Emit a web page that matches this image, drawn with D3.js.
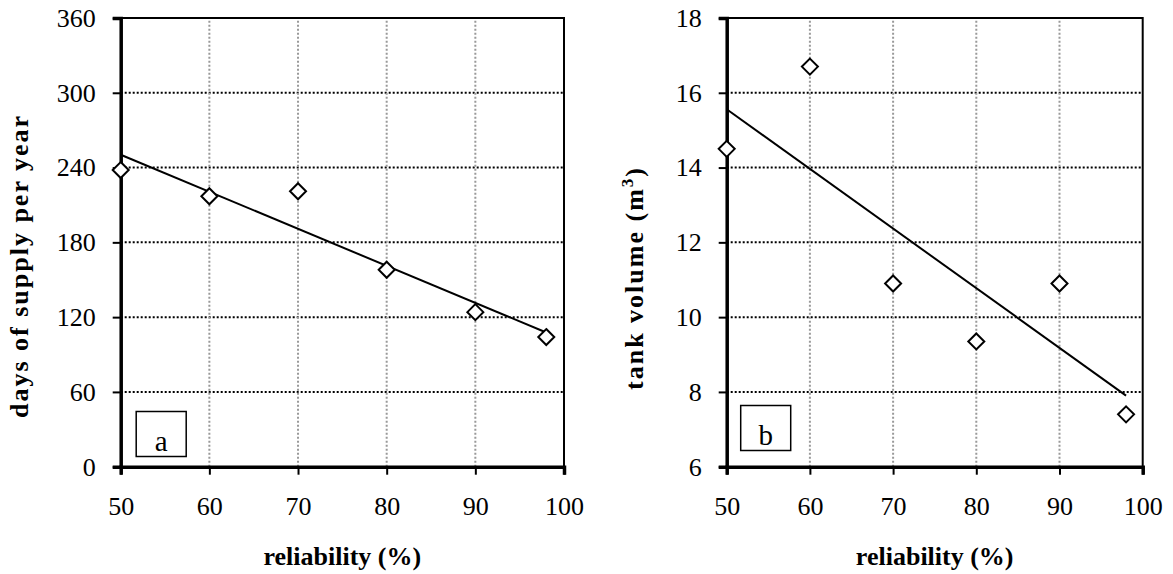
<!DOCTYPE html>
<html>
<head>
    <title>Reliability charts</title>
    <script src="https://cdn.jsdelivr.net/npm/d3@7"></script>
    <style>
        body {
            margin: 0;
            padding: 0;
            background-color: white;
        }

        svg text {
            font-family: "Liberation Serif", "Times New Roman", serif;
            fill: black;
        }

        .tick-label {
            font-size: 26px;
        }

        .axis-title {
            font-size: 26px;
            font-weight: bold;
        }

        .y-title {
            letter-spacing: 2px;
        }

        .panel-label {
            font-size: 29px;
        }
    </style>
</head>
<body>
    <div id="chart"></div>

    <script>
        // values
        const reliability = [50, 60, 70, 80, 90, 98];
        const daysOfSupply = [238, 217, 221, 158, 124, 104];
        const tankVolume = [14.5, 16.7, 10.9, 9.35, 10.9, 7.4];

        const xTicks = [50, 60, 70, 80, 90, 100];
        const yTicksA = [0, 60, 120, 180, 240, 300, 360];
        const yTicksB = [6, 8, 10, 12, 14, 16, 18];

        const svg = d3.select("#chart")
            .append("svg")
            .attr("width", 1173)
            .attr("height", 574);

        // least squares trend line, like the spreadsheet trendline
        function fitLine(xs, ys) {
            const mx = d3.mean(xs), my = d3.mean(ys);
            const sxy = d3.sum(xs, (x, i) => (x - mx) * (ys[i] - my));
            const sxx = d3.sum(xs, x => (x - mx) * (x - mx));
            const slope = sxy / sxx;
            return x => my + slope * (x - mx);
        }

        function drawPanel(cfg) {
            const x = d3.scaleLinear().domain([50, 100]).range([cfg.left, cfg.right]);
            const y = d3.scaleLinear().domain(cfg.yDomain).range([466.7, 18]);
            const g = svg.append("g");

            // horizontal grid, black dots
            g.selectAll(".hgrid")
                .data(cfg.yTicks.slice(1, -1))
                .enter()
                .append("line")
                .attr("x1", cfg.left)
                .attr("x2", cfg.right)
                .attr("y1", d => y(d))
                .attr("y2", d => y(d))
                .style("stroke", "black")
                .style("stroke-width", "2px")
                .style("stroke-dasharray", "2,2");

            // vertical grid, grey dots
            g.selectAll(".vgrid")
                .data(xTicks.slice(1, -1))
                .enter()
                .append("line")
                .attr("x1", d => x(d))
                .attr("x2", d => x(d))
                .attr("y1", y(cfg.yDomain[0]))
                .attr("y2", y(cfg.yDomain[1]))
                .style("stroke", "#999")
                .style("stroke-width", "2px")
                .style("stroke-dasharray", "2,2");

            // top and right border
            g.append("path")
                .attr("d", `M${cfg.left},${y(cfg.yDomain[1])}H${cfg.right}V${y(cfg.yDomain[0])}`)
                .style("fill", "none")
                .style("stroke", "black")
                .style("stroke-width", "2px");

            const xAxis = g.append("g")
                .attr("transform", `translate(0,${y(cfg.yDomain[0])})`)
                .call(d3.axisBottom(x).tickValues(xTicks).tickSize(8).tickPadding(22));

            const yAxis = g.append("g")
                .attr("transform", `translate(${cfg.left},0)`)
                .call(d3.axisLeft(y).tickValues(cfg.yTicks).tickSize(8).tickPadding(17));

            [xAxis, yAxis].forEach(a => {
                a.select(".domain").style("stroke", "black").style("stroke-width", "3.5px");
                a.selectAll(".tick line").style("stroke", "black").style("stroke-width", "2px");
                a.selectAll(".tick text")
                    .attr("class", "tick-label")
                    .attr("font-family", null)
                    .attr("font-size", null);
                a.attr("font-family", null).attr("font-size", null);
            });

            // trend line
            const f = fitLine(reliability, cfg.values);
            const x0 = d3.min(reliability), x1 = d3.max(reliability);
            g.append("line")
                .attr("x1", x(x0))
                .attr("y1", y(f(x0)))
                .attr("x2", x(x1))
                .attr("y2", y(f(x1)))
                .style("stroke", "black")
                .style("stroke-width", "2px");

            // diamond markers
            g.selectAll(".pt")
                .data(reliability)
                .enter()
                .append("path")
                .attr("d", "M0,-8L8,0L0,8L-8,0Z")
                .attr("transform", (d, i) => `translate(${x(d)},${y(cfg.values[i])})`)
                .style("fill", "white")
                .style("stroke", "black")
                .style("stroke-width", "2px");

            // panel letter box
            g.append("rect")
                .attr("x", cfg.left + cfg.box[0])
                .attr("y", cfg.box[1])
                .attr("width", 50)
                .attr("height", 45)
                .style("fill", "white")
                .style("stroke", "black")
                .style("stroke-width", "1.5px");

            g.append("text")
                .attr("class", "panel-label")
                .attr("x", cfg.left + cfg.box[0] + 25)
                .attr("y", cfg.box[1] + 39)
                .style("text-anchor", "middle")
                .text(cfg.letter);

            // axis titles
            g.append("text")
                .attr("class", "axis-title")
                .attr("x", (cfg.left + cfg.right) / 2)
                .attr("y", 565)
                .style("text-anchor", "middle")
                .text("reliability (%)");

            const yt = g.append("text")
                .attr("class", "axis-title y-title")
                .attr("transform", `translate(${cfg.left - cfg.titleOffset},${cfg.titleY}) rotate(-90)`)
                .style("text-anchor", "middle");
            yt.append("tspan").text(cfg.yTitle[0]);
            if (cfg.yTitle.length > 1) {
                yt.append("tspan").attr("dy", -10).style("font-size", "17px").text(cfg.yTitle[1]);
                yt.append("tspan").attr("dy", 10).text(cfg.yTitle[2]);
            }
        }

        drawPanel({
            left: 120.7, right: 564,
            yDomain: [0, 360], yTicks: yTicksA,
            values: daysOfSupply,
            letter: "a", box: [15.5, 411.5],
            yTitle: ["days of supply per year"],
            titleOffset: 93, titleY: 266
        });

        drawPanel({
            left: 726.7, right: 1142.7,
            yDomain: [6, 18], yTicks: yTicksB,
            values: tankVolume,
            letter: "b", box: [14, 405.5],
            yTitle: ["tank volume (m", "3", ")"],
            titleOffset: 84, titleY: 278
        });
    </script>
</body>
</html>
